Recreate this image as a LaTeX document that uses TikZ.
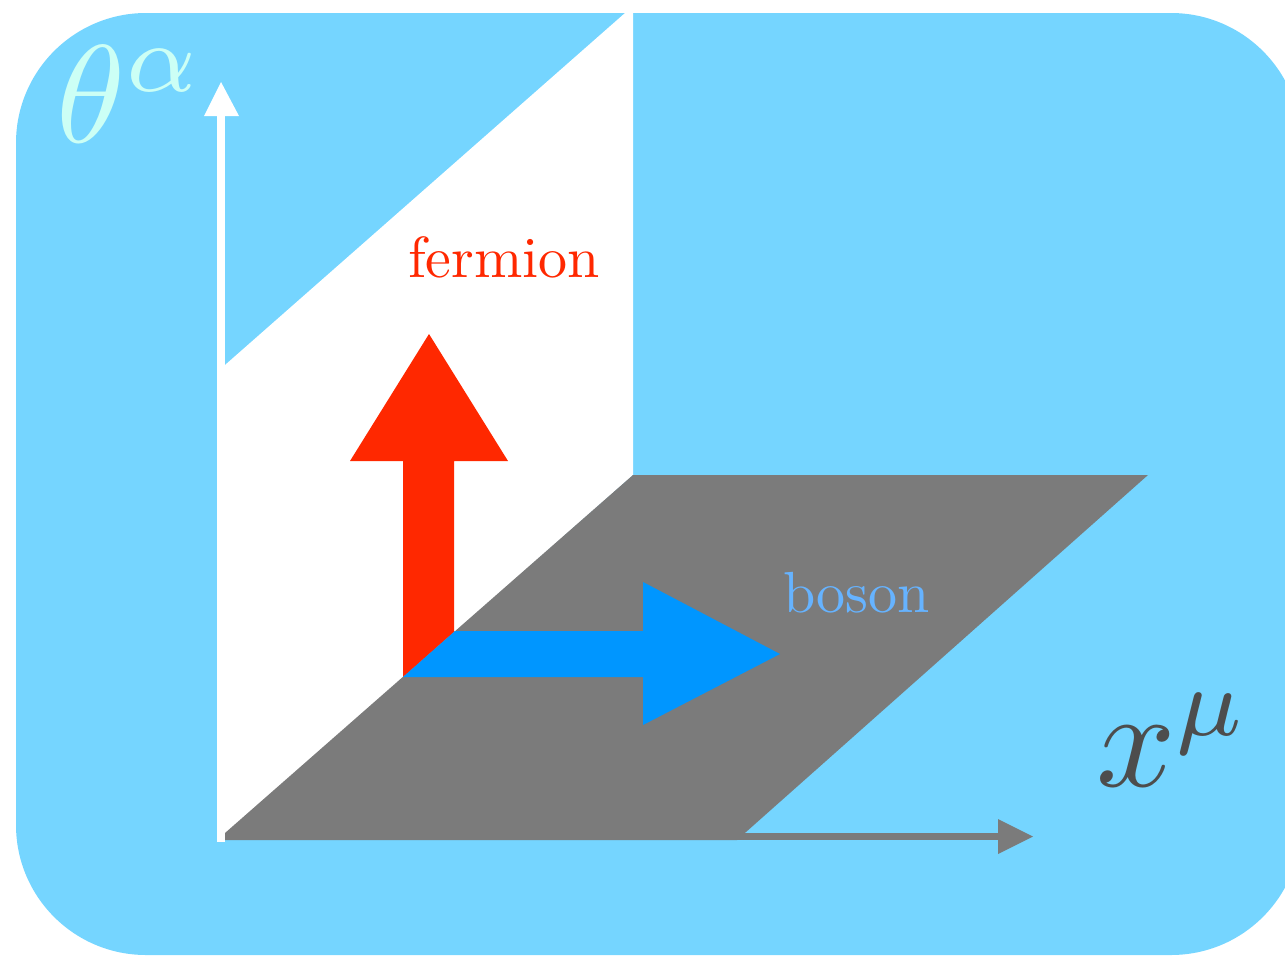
\documentclass[tikz,border=0pt]{standalone}
\definecolor{bgblue}{RGB}{117,213,255}
\definecolor{planegrey}{RGB}{123,123,123}
\definecolor{arrred}{RGB}{255,40,0}
\definecolor{arrblue}{RGB}{0,150,255}
\definecolor{bosontxt}{RGB}{102,179,255}
\definecolor{thetatxt}{RGB}{204,255,245}
\definecolor{xtxt}{RGB}{77,77,77}
\tikzset{
  lbl/.style={anchor=base west, inner sep=0pt, outer sep=0pt},
  wordfont/.style={scale=5.8},
  axisfont/.style={scale=13.9},
}
\begin{document}
\begin{tikzpicture}[x=1pt,y=-1pt]
\useasboundingbox (0,0) rectangle (1285,956);
\clip (0,0) rectangle (1285,956);
% background panel
\fill[bgblue, rounded corners=130pt] (16,13) rectangle (1301,955);
% white (fermionic) plane
\fill[white] (225,835) -- (225,365) -- (633,6) -- (633,475) -- cycle;
% grey (bosonic) plane
\fill[planegrey] (225,840) -- (225,833) -- (633,475) -- (1148,475) -- (737,840) -- cycle;
% horizontal axis
\fill[planegrey] (737,833) rectangle (999,840);
\fill[planegrey] (998,819) -- (1033,836.5) -- (998,854) -- cycle;
% vertical axis
\fill[white] (217,115) rectangle (225,842);
\fill[white] (204,116) -- (221,82) -- (239,116) -- cycle;
% red arrow
\fill[arrred] (403,677) -- (403,461) -- (350,461) -- (429,334) -- (508,461)
  -- (454,461) -- (454,632) -- cycle;
% blue arrow
\fill[arrblue] (403,677) -- (455,631) -- (643,631) -- (643,582) -- (780,654)
  -- (643,725) -- (643,677) -- cycle;
% labels
\node[lbl, wordfont, text=arrred] (fermion) at (408,277) {fermion};
\node[lbl, wordfont, text=bosontxt] (boson) at (783,612) {boson};
\node[lbl, axisfont, text=thetatxt] (theta) at (56,142) {$\theta^{\alpha}$};
\node[lbl, axisfont, text=xtxt] (xmu) at (1096,786) {$x^{\mu}$};
\end{tikzpicture}
\end{document}
